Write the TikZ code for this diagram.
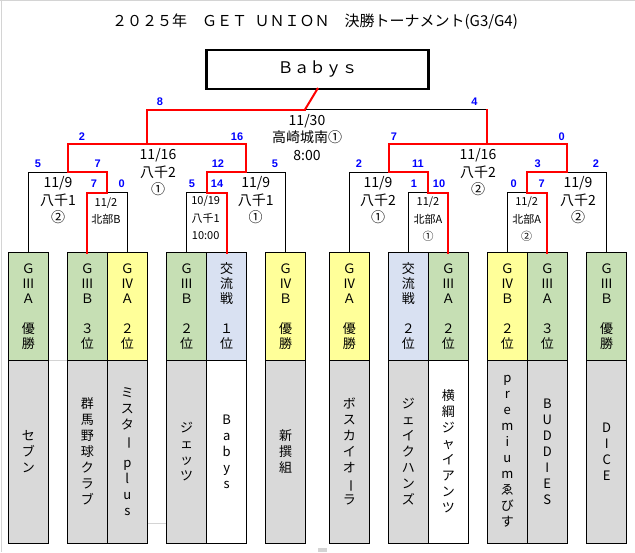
\documentclass[tikz,border=0pt]{standalone}
\usepackage{fontspec}
\usepackage{graphicx}
\setmainfont{Noto Sans CJK JP}
\newfontfamily\scorefont{Liberation Sans}
\definecolor{cgreen}{HTML}{C6DFB4}
\definecolor{cyellow}{HTML}{FFFF99}
\definecolor{clav}{HTML}{D9E1F2}
\definecolor{cgrey}{HTML}{D9D9D9}
\definecolor{cblue}{HTML}{0000FF}
\definecolor{cred}{HTML}{FF0000}
\definecolor{gridgrey}{HTML}{D4D4D4}
\newcommand\vbarjp{\raisebox{0pt}[10pt][2pt]{\rotatebox[origin=c]{-90}{ー}}}
\tikzset{
  cell/.style={draw, line width=1pt, minimum width=40pt, inner sep=0pt, outer sep=0pt, align=center},
  rank/.style={cell, minimum height=107.3pt, font=\fontsize{13}{15}\selectfont},
  namebox/.style={cell, minimum height=183.3pt, font=\fontsize{13}{16}\selectfont},
  win/.style={draw=cred, line width=2pt, line cap=rect},
  lose/.style={draw=black, line width=0.9pt},
  score/.style={text=cblue, font=\scorefont\bfseries\fontsize{11}{11}\selectfont, inner sep=0pt},
  info/.style={font=\fontsize{14}{17.5}\selectfont, align=center, inner sep=0pt},
  sinfo/.style={font=\fontsize{11}{17.5}\selectfont, align=center, inner sep=0pt},
  gridline/.style={draw=gridgrey, line width=1pt},
}
\begin{document}
\begin{tikzpicture}[x=1pt,y=-1pt]
\useasboundingbox (0,0) rectangle (635,552);
% spreadsheet grid remnants
\draw[gridline] (0,0.5) -- (635,0.5);
\draw[gridline] (1.5,0) -- (1.5,552);
\draw[gridline] (48.3,360) -- (67.3,360);
\draw[gridline] (147.3,523) -- (166.7,523);
\fill[gridgrey] (318,548) rectangle (327,552);

% title
\node[font=\fontsize{15}{15}\selectfont, inner sep=0pt] (title) at (315,22)
  {２０２５年　ＧＥＴ\hspace{0.5em}ＵＮＩＯＮ　決勝トーナメント(G3/G4)};

% champion
\node[draw, line width=2.5pt, minimum width=222pt, minimum height=39pt, inner sep=0pt, outer sep=0pt,
  font=\fontsize{16}{16}\selectfont] (champ) at (317.5,69.3) {Ｂａｂｙｓ};

% rank cells
\node[rank, fill=cgreen]  (r1)  at (28.3,306.35)  {Ｇ\\Ⅲ\\Ａ\\[15pt]優\\勝};
\node[rank, fill=cgreen]  (r2)  at (87.3,306.35)  {Ｇ\\Ⅲ\\Ｂ\\[15pt]３\\位};
\node[rank, fill=cyellow] (r3)  at (127.3,306.35) {Ｇ\\Ⅳ\\Ａ\\[15pt]２\\位};
\node[rank, fill=cgreen]  (r4)  at (186.7,306.35) {Ｇ\\Ⅲ\\Ｂ\\[15pt]２\\位};
\node[rank, fill=clav]    (r5)  at (226.7,306.35) {交\\流\\戦\\[15pt]１\\位};
\node[rank, fill=cyellow] (r6)  at (285.7,306.35) {Ｇ\\Ⅳ\\Ｂ\\[15pt]優\\勝};
\node[rank, fill=cyellow] (r7)  at (349.3,306.35) {Ｇ\\Ⅳ\\Ａ\\[15pt]優\\勝};
\node[rank, fill=clav]    (r8)  at (408.3,306.35) {交\\流\\戦\\[15pt]２\\位};
\node[rank, fill=cgreen]  (r9)  at (448.3,306.35) {Ｇ\\Ⅲ\\Ａ\\[15pt]２\\位};
\node[rank, fill=cyellow] (r10) at (507.3,306.35) {Ｇ\\Ⅳ\\Ｂ\\[15pt]２\\位};
\node[rank, fill=cgreen]  (r11) at (547.3,306.35) {Ｇ\\Ⅲ\\Ａ\\[15pt]３\\位};
\node[rank, fill=cgreen]  (r12) at (606.7,306.35) {Ｇ\\Ⅲ\\Ｂ\\[15pt]優\\勝};

% team name cells
\node[namebox, fill=cgrey] (n1)  at (28.3,451.65)  {セ\\ブ\\ン};
\node[namebox, fill=cgrey] (n2)  at (87.3,451.65)  {群\\馬\\野\\球\\ク\\ラ\\ブ};
\node[namebox, fill=cgrey] (n3)  at (127.3,451.65) {ミ\\ス\\タ\\\vbarjp\\[6pt]p\\l\\u\\s};
\node[namebox, fill=cgrey] (n4)  at (186.7,451.65) {ジ\\ェ\\ッ\\ツ};
\node[namebox, fill=white] (n5)  at (226.7,451.65) {B\\a\\b\\y\\s};
\node[namebox, fill=cgrey] (n6)  at (285.7,451.65) {新\\撰\\組};
\node[namebox, fill=cgrey] (n7)  at (349.3,451.65) {ボ\\ス\\カ\\イ\\オ\\\vbarjp\\ラ};
\node[namebox, fill=cgrey] (n8)  at (408.3,451.65) {ジ\\ェ\\イ\\ク\\ハ\\ン\\ズ};
\node[namebox, fill=white] (n9)  at (448.3,451.65) {横\\綱\\ジ\\ャ\\イ\\ア\\ン\\ツ};
\node[namebox, fill=cgrey] (n10) at (507.3,451.65) {p\\r\\e\\m\\i\\u\\m\\ゑ\\び\\す};
\node[namebox, fill=cgrey] (n11) at (547.3,451.65) {B\\U\\D\\D\\I\\E\\S};
\node[namebox, fill=cgrey] (n12) at (606.7,451.65) {D\\I\\C\\E};

% bracket junctions
\coordinate (L1) at (107.3,192.5);
\coordinate (L2) at (206.7,192.5);
\coordinate (R1) at (428.3,192.5);
\coordinate (R2) at (527.3,192.5);
\coordinate (Q1) at (67.8,172.3);
\coordinate (Q2) at (246.2,172.3);
\coordinate (Q3) at (388.8,172.3);
\coordinate (Q4) at (567,172.3);
\coordinate (S1) at (147,144);
\coordinate (S2) at (487,144);
\coordinate (F)  at (305,109.5);
\coordinate (F2) at (487,109.5);

% losing lines (black)
\draw[lose] (r3.north) |- (L1);
\draw[lose] (r4.north) |- (L2);
\draw[lose] (r8.north) |- (R1);
\draw[lose] (r10.north) |- (R2);
\draw[lose] (r1.north) |- (Q1);
\draw[lose] (r6.north) |- (Q2);
\draw[lose] (r7.north) |- (Q3);
\draw[lose] (r12.north) |- (Q4);
\draw[lose] (F2) -- (F);

% winning lines (red)
\draw[win] (r2.north) |- (L1);
\draw[win] (r5.north) |- (L2);
\draw[win] (r9.north) |- (R1);
\draw[win] (r11.north) |- (R2);
\draw[win] (L1) |- (Q1);
\draw[win] (L2) |- (Q2);
\draw[win] (R1) |- (Q3);
\draw[win] (R2) |- (Q4);
\draw[win] (Q1) |- (S1);
\draw[win] (Q2) |- (S1);
\draw[win] (Q3) |- (S2);
\draw[win] (Q4) |- (S2);
\draw[win] (S1) |- (F);
\draw[win] (S2) -- (F2);
\draw[win] (F) -- (champ.south);

% scores
\node[score] (sf1) at (160,101.7) {8};
\node[score] (sf2) at (474.5,101.7) {4};
\node[score] (ss1) at (82,137) {2};
\node[score] (ss2) at (237,137) {16};
\node[score] (ss3) at (394,137) {7};
\node[score] (ss4) at (561.7,137) {0};
\node[score] (sq1) at (38,164) {5};
\node[score] (sq2) at (97.7,164) {7};
\node[score] (sq3) at (218,164) {12};
\node[score] (sq4) at (275,164) {5};
\node[score] (sq5) at (359,164) {2};
\node[score] (sq6) at (418,164) {11};
\node[score] (sq7) at (537.7,164) {3};
\node[score] (sq8) at (596,164) {2};
\node[score] (sr1) at (94,184) {7};
\node[score] (sr2) at (121.7,184) {0};
\node[score] (sr3) at (192,184) {5};
\node[score] (sr4) at (217,184) {14};
\node[score] (sr5) at (414,184) {1};
\node[score] (sr6) at (439,184) {10};
\node[score] (sr7) at (513.7,184) {0};
\node[score] (sr8) at (541.7,184) {7};

% match info
\node[info] (if) at (307,137.5) {11/30\\高崎城南①\\8:00};
\node[info] (is1) at (158,172.5) {11/16\\八千2\\①};
\node[info] (is2) at (478,172.5) {11/16\\八千2\\②};
\node[info] (iq1) at (58,200.5) {11/9\\八千1\\②};
\node[info] (iq2) at (255.7,200.5) {11/9\\八千1\\①};
\node[info] (iq3) at (378,200.5) {11/9\\八千2\\①};
\node[info] (iq4) at (578,200.5) {11/9\\八千2\\②};
\node[sinfo] (il1) at (106,211) {11/2\\北部B};
\node[sinfo] (il2) at (205.7,218) {10/19\\八千1\\10:00};
\node[sinfo] (ir1) at (428,219.5) {11/2\\北部A\\①};
\node[sinfo] (ir2) at (526.7,219.5) {11/2\\北部A\\②};
\end{tikzpicture}
\end{document}
